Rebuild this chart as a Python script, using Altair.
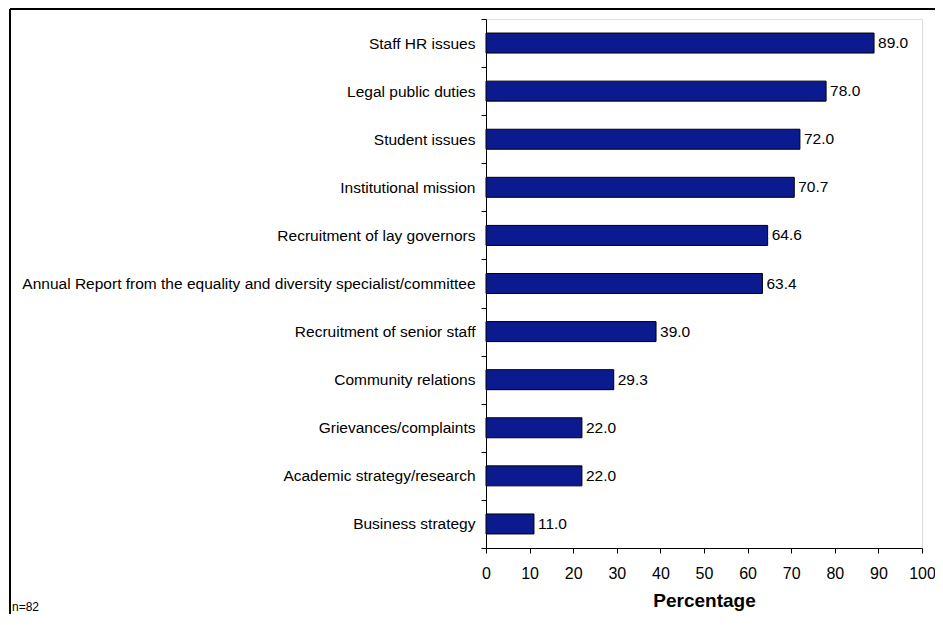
import altair as alt
import pandas as pd

categories = [
    "Staff HR issues",
    "Legal public duties",
    "Student issues",
    "Institutional mission",
    "Recruitment of lay governors",
    "Annual Report from the equality and diversity specialist/committee",
    "Recruitment of senior staff",
    "Community relations",
    "Grievances/complaints",
    "Academic strategy/research",
    "Business strategy",
]
values = [89.0, 78.0, 72.0, 70.7, 64.6, 63.4, 39.0, 29.3, 22.0, 22.0, 11.0]
x_ticks = [0, 10, 20, 30, 40, 50, 60, 70, 80, 90, 100]
note = "n=82"

df = pd.DataFrame({"category": categories, "value": values})
FONT = "Liberation Sans"

y_enc = alt.Y(
    "category:N",
    sort=categories,
    scale=alt.Scale(paddingInner=0, paddingOuter=0),
    axis=alt.Axis(
        title=None,
        tickBand="extent",
        labelFontSize=15.5,
        labelFont=FONT,
        labelColor="black",
        labelPadding=6,
        labelLimit=600,
        tickSize=5,
        tickColor="black",
        domainColor="black",
    ),
)
x_enc = alt.X(
    "value:Q",
    scale=alt.Scale(domain=[0, 100], nice=False),
    axis=alt.Axis(
        values=x_ticks,
        title="Percentage",
        titleFontSize=19,
        titleFont=FONT,
        titleFontWeight="bold",
        titleColor="black",
        titlePadding=10,
        labelFontSize=16,
        labelFont=FONT,
        labelColor="black",
        labelPadding=12,
        tickSize=5,
        tickColor="black",
        domainColor="black",
        grid=False,
        labelFlush=False,
    ),
)

bars = alt.Chart(df).mark_bar(
    size=20, color="#0B1B8F", stroke="black", strokeWidth=1
).encode(x=x_enc, y=y_enc)

labels = alt.Chart(df).mark_text(
    align="left", baseline="middle", dx=4, fontSize=15.5, font=FONT, color="black"
).encode(
    x="value:Q",
    y=alt.Y("category:N", sort=categories),
    text=alt.Text("value:Q", format=".1f"),
)

one = alt.Data(values=[{"a": 1}])
border_left = alt.Chart(one).mark_rule(color="black", strokeWidth=2).encode(
    x=alt.value(-476), y=alt.value(-10), y2=alt.value(620)
)
border_top = alt.Chart(one).mark_rule(color="black", strokeWidth=2).encode(
    x=alt.value(-476), x2=alt.value(460), y=alt.value(-10)
)
note_text = alt.Chart(one).mark_text(
    align="left", baseline="middle", fontSize=12, font=FONT, color="black", text=note
).encode(x=alt.value(-474), y=alt.value(588))

chart = alt.layer(bars, labels, border_left, border_top, note_text).properties(
    width=436,
    height=529,
    autosize=alt.AutoSizeParams(type="none"),
    padding={"left": 478, "top": 11, "right": 13, "bottom": 66},
).configure_view(stroke=None).configure(background="white")

chart.save("out.html", embed_options={"renderer": "svg", "actions": False})
